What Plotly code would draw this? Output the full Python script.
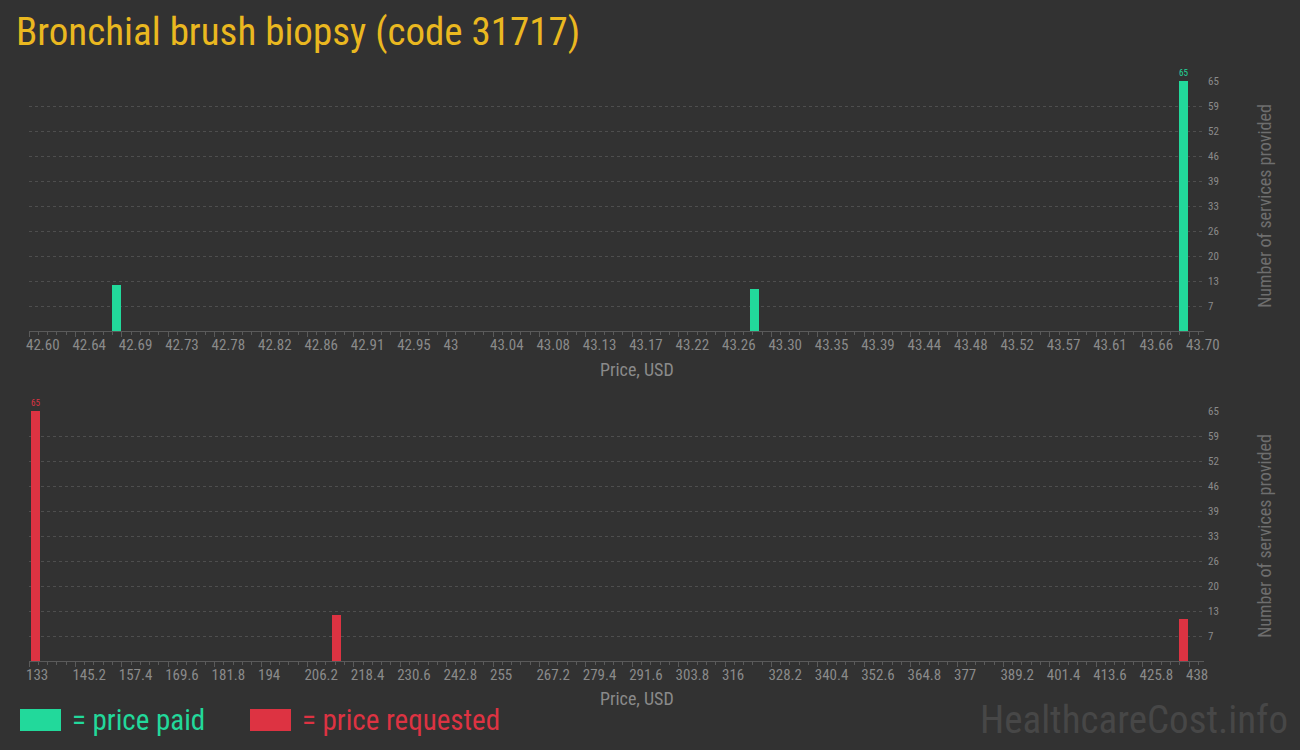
import plotly.graph_objects as go
import numpy as np

# ---------------- data ----------------
paid_prices = [42.683, 43.288, 43.695]
paid_counts = [12, 11, 65]
req_prices = [134.7, 213.9, 436.6]
req_counts = [65, 12, 11]

paid_tick_labels = ["42.60", "42.64", "42.69", "42.73", "42.78", "42.82", "42.86", "42.91",
                    "42.95", "43", "43.04", "43.08", "43.13", "43.17", "43.22", "43.26",
                    "43.30", "43.35", "43.39", "43.44", "43.48", "43.52", "43.57", "43.61",
                    "43.66", "43.70"]
req_tick_labels = ["133", "145.2", "157.4", "169.6", "181.8", "194", "206.2", "218.4",
                   "230.6", "242.8", "255", "267.2", "279.4", "291.6", "303.8", "316",
                   "328.2", "340.4", "352.6", "364.8", "377", "389.2", "401.4", "413.6",
                   "425.8", "438"]
y_tick_vals = [6.5, 13, 19.5, 26, 32.5, 39, 45.5, 52, 58.5, 65]
y_tick_labels = ["7", "13", "20", "26", "33", "39", "46", "52", "59", "65"]

title_text = "Bronchial brush biopsy (code 31717)"
x_title = "Price, USD"

# ---------------- style ----------------
W, H = 1300, 750
BG = "#323232"
GREEN = "#22d99b"
RED = "#dd3342"
GOLD = "#eab820"
GRAY = "#8a8a8a"
GRID = "#4e4e4e"
AXIS = "#5a5a5a"
NARROW = "Roboto Condensed, Roboto, sans-serif"

paid_lo, paid_hi = 42.60, 43.70
req_lo, req_hi = 133.0, 438.0
x_left_px, x_tick_right_px, x_right_px = 29, 1189, 1204

def ext_range(lo, hi):
    per_px = (hi - lo) / (x_tick_right_px - x_left_px)
    return [lo, hi + per_px * (x_right_px - x_tick_right_px)], per_px

paid_range, paid_per_px = ext_range(paid_lo, paid_hi)
req_range, req_per_px = ext_range(req_lo, req_hi)

def labels_for_max(vals):
    m = max(vals)
    return [str(v) if v == m else "" for v in vals]

fig = go.Figure()
fig.add_trace(go.Bar(x=paid_prices, y=paid_counts, width=9 * paid_per_px,
                     marker=dict(color=GREEN, line=dict(width=0)),
                     text=labels_for_max(paid_counts), textposition="outside",
                     textfont=dict(color=GREEN, size=11, family=NARROW),
                     cliponaxis=False, xaxis="x", yaxis="y", showlegend=False,
                     hoverinfo="x+y"))
fig.add_trace(go.Bar(x=req_prices, y=req_counts, width=9 * req_per_px,
                     marker=dict(color=RED, line=dict(width=0)),
                     text=labels_for_max(req_counts), textposition="outside",
                     textfont=dict(color=RED, size=11, family=NARROW),
                     cliponaxis=False, xaxis="x2", yaxis="y2", showlegend=False,
                     hoverinfo="x+y"))

xdom = [x_left_px / W, x_right_px / W]

def xaxis_cfg(rng, lo, hi, labels, anchor):
    n = len(labels)
    step = (hi - lo) / (n - 1)
    return dict(domain=xdom, range=rng, anchor=anchor, automargin=False,
                tickmode="array", tickvals=list(np.linspace(lo, hi, n)), ticktext=labels,
                ticks="outside", ticklen=5, tickcolor=AXIS, tickwidth=1,
                ticklabelposition="outside right", tickangle=0, ticklabelshift=-4,
                minor=dict(tickmode="linear", tick0=lo, dtick=step / 5, ticks="outside",
                           ticklen=3, tickcolor=AXIS, showgrid=False),
                showline=True, linecolor=AXIS, linewidth=1,
                showgrid=False, zeroline=False,
                tickfont=dict(family=NARROW, size=15, color=GRAY))

def yaxis_cfg(dom, anchor):
    return dict(domain=dom, range=[0, 65], anchor=anchor, side="right", automargin=False,
                tickmode="array", tickvals=y_tick_vals, ticktext=y_tick_labels,
                showgrid=True, gridcolor=GRID, griddash="3px,3px", gridwidth=1,
                zeroline=False, showline=False, ticks="", ticklabelstandoff=3,
                tickfont=dict(family=NARROW, size=11, color=GRAY),
                title=dict(text="Number of services provided",
                           font=dict(family=NARROW, size=18, color="#6e6e6e"),
                           standoff=40))

fig.update_layout(
    width=W, height=H,
    paper_bgcolor=BG, plot_bgcolor=BG,
    margin=dict(l=0, r=0, t=0, b=0),
    bargap=0,
    xaxis=xaxis_cfg(paid_range, paid_lo, paid_hi, paid_tick_labels, "y"),
    yaxis=yaxis_cfg([1 - 331 / H, 1 - 81 / H], "x"),
    xaxis2=xaxis_cfg(req_range, req_lo, req_hi, req_tick_labels, "y2"),
    yaxis2=yaxis_cfg([1 - 661 / H, 1 - 411 / H], "x2"),
    font=dict(family=NARROW, color=GRAY),
    hovermode="closest",
)

# X axis titles
for ypx in (369, 698):
    fig.add_annotation(text=x_title, xref="paper", yref="paper", x=637 / W, y=1 - ypx / H,
                       xanchor="center", yanchor="middle", showarrow=False,
                       font=dict(family=NARROW, size=18, color=GRAY))

# Title
fig.add_annotation(text=title_text, xref="paper", yref="paper", x=14 / W, y=1 - 32 / H,
                   xanchor="left", yanchor="middle", showarrow=False,
                   font=dict(family=NARROW, size=39, color=GOLD))

# Legend (swatches + text)
fig.add_shape(type="rect", xref="paper", yref="paper", x0=20 / W, x1=61 / W,
              y0=1 - 731 / H, y1=1 - 709 / H, fillcolor=GREEN, line=dict(width=0))
fig.add_annotation(text="= price paid", xref="paper", yref="paper", x=70 / W, y=1 - 720 / H,
                   xanchor="left", yanchor="middle", showarrow=False,
                   font=dict(family=NARROW, size=29, color=GREEN))
fig.add_shape(type="rect", xref="paper", yref="paper", x0=250 / W, x1=291 / W,
              y0=1 - 731 / H, y1=1 - 709 / H, fillcolor=RED, line=dict(width=0))
fig.add_annotation(text="= price requested", xref="paper", yref="paper", x=300 / W, y=1 - 720 / H,
                   xanchor="left", yanchor="middle", showarrow=False,
                   font=dict(family=NARROW, size=29, color=RED))

# Watermark
fig.add_annotation(text="HealthcareCost.info", xref="paper", yref="paper", x=1290 / W, y=1 - 720 / H,
                   xanchor="right", yanchor="middle", showarrow=False,
                   font=dict(family=NARROW, size=39, color="#474747"))

fig.write_html("out.html", config={"displayModeBar": False},
               post_script="document.body.style.margin='0';document.body.style.overflow='hidden';")
